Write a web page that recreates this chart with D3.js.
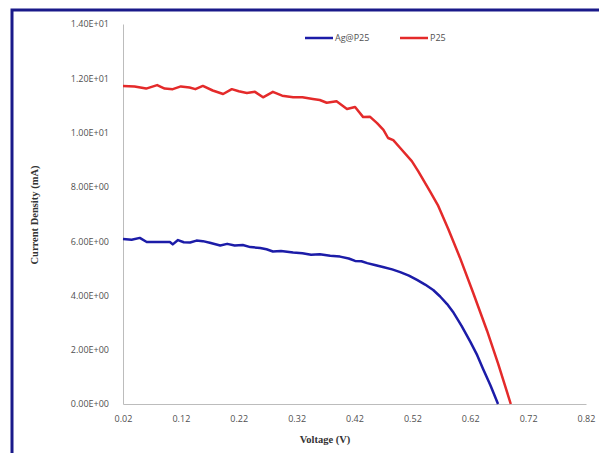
<!DOCTYPE html>
<html>
<head>
<meta charset="utf-8">
<script src="https://cdn.jsdelivr.net/npm/d3@7"></script>
<style>
  body { margin: 0; background: #fff; }
  svg { display: block; }
</style>
</head>
<body>
<div id="chart"></div>
<script>
// Ag@P25 - voltage (V) and current density (mA)
var agVoltage = [0.02, 0.035, 0.049, 0.061, 0.101, 0.106, 0.115, 0.125, 0.136, 0.147, 0.158, 0.170, 0.188, 0.200,
    0.213, 0.227, 0.240, 0.257, 0.268, 0.279, 0.293, 0.314, 0.330, 0.345, 0.360, 0.378, 0.395, 0.410, 0.421,
    0.432, 0.442, 0.455, 0.469, 0.485, 0.499, 0.514, 0.528, 0.542, 0.556, 0.568, 0.580, 0.590, 0.605, 0.620,
    0.632, 0.642, 0.655, 0.668];
var agCurrent = [6.08, 6.05, 6.12, 5.97, 5.97, 5.88, 6.04, 5.96, 5.95, 6.02, 6.00, 5.94, 5.84, 5.90,
    5.84, 5.86, 5.78, 5.75, 5.70, 5.62, 5.64, 5.58, 5.55, 5.50, 5.52, 5.46, 5.43, 5.36, 5.27,
    5.26, 5.19, 5.12, 5.05, 4.96, 4.86, 4.73, 4.57, 4.40, 4.20, 3.96, 3.68, 3.40, 2.88, 2.30,
    1.80, 1.30, 0.68, 0.0];

// P25
var p25Voltage = [0.02, 0.04, 0.06, 0.079, 0.092, 0.106, 0.120, 0.135, 0.145, 0.158, 0.175, 0.193, 0.208, 0.220,
    0.234, 0.248, 0.262, 0.279, 0.295, 0.314, 0.330, 0.348, 0.360, 0.372, 0.389, 0.407, 0.421, 0.435, 0.447,
    0.459, 0.470, 0.478, 0.487, 0.499, 0.519, 0.530, 0.550, 0.564, 0.582, 0.602, 0.625, 0.649,
    0.668, 0.690];
var p25Current = [11.72, 11.70, 11.62, 11.75, 11.62, 11.60, 11.70, 11.66, 11.60, 11.72, 11.55, 11.42, 11.60, 11.52,
    11.46, 11.50, 11.30, 11.50, 11.36, 11.30, 11.30, 11.24, 11.20, 11.10, 11.15, 10.87, 10.94, 10.57, 10.58,
    10.35, 10.10, 9.80, 9.72, 9.43, 8.95, 8.58, 7.85, 7.33, 6.45, 5.40, 4.10, 2.70,
    1.50, 0.0];

var xTicks = [0.02, 0.12, 0.22, 0.32, 0.42, 0.52, 0.62, 0.72, 0.82];
var yTicks = [0, 2, 4, 6, 8, 10, 12, 14];

var seriesNames = ["Ag@P25", "P25"];
var seriesColors = ["#1c1ca8", "#e42a2a"];

var width = 599, height = 453;
var svg = d3.select("#chart").append("svg")
    .attr("width", width)
    .attr("height", height);

// outer frame
svg.append("rect")
    .attr("x", 12).attr("y", 10)
    .attr("width", 600).attr("height", 460)
    .attr("fill", "#fff")
    .attr("stroke", "#1a1a8a")
    .attr("stroke-width", 3);

var x = d3.scaleLinear().domain([0.02, 0.82]).range([123, 586]);
var y = d3.scaleLinear().domain([0, 14]).range([404, 24]);

var fmt = function (d) {
    return d.toExponential(2).toUpperCase().replace(/E([+-])(\d)$/, "E$10$2");
};

// y axis
var yAxis = svg.append("g")
    .attr("transform", "translate(123,0)")
    .call(d3.axisLeft(y).tickValues(yTicks).tickSize(0).tickPadding(14).tickFormat(fmt));
yAxis.select(".domain").attr("stroke", "#bcbcbc");
yAxis.selectAll("text")
    .attr("fill", "#505050")
    .style("font-family", "'Open Sans', sans-serif")
    .style("font-size", "9px");

// x axis
var xAxis = svg.append("g")
    .attr("transform", "translate(0,404)")
    .call(d3.axisBottom(x).tickValues(xTicks).tickSize(0).tickPadding(12).tickFormat(d3.format(".2f")));
xAxis.select(".domain").attr("stroke", "#bcbcbc");
xAxis.selectAll("text")
    .attr("fill", "#505050")
    .style("font-family", "'Open Sans', sans-serif")
    .style("font-size", "9px");

// axis titles
svg.append("text")
    .attr("x", 325).attr("y", 443)
    .attr("text-anchor", "middle")
    .style("font-family", "'Liberation Serif', serif")
    .style("font-weight", "bold")
    .style("font-size", "10.5px")
    .attr("fill", "#333")
    .text("Voltage (V)");

svg.append("text")
    .attr("transform", "translate(38,215) rotate(-90)")
    .attr("text-anchor", "middle")
    .style("font-family", "'Liberation Serif', serif")
    .style("font-weight", "bold")
    .style("font-size", "10.5px")
    .attr("fill", "#333")
    .text("Current Density (mA)");

// lines
var line = d3.line()
    .x(function (d) { return x(d[0]); })
    .y(function (d) { return y(d[1]); });

var agData = d3.zip(agVoltage, agCurrent);
var p25Data = d3.zip(p25Voltage, p25Current);

[agData, p25Data].forEach(function (data, i) {
    svg.append("path")
        .datum(data)
        .attr("fill", "none")
        .attr("stroke", seriesColors[i])
        .attr("stroke-width", 2.5)
        .attr("stroke-linejoin", "round")
        .attr("d", line);
});

// legend
var legendX = [305, 400];
seriesNames.forEach(function (name, i) {
    svg.append("line")
        .attr("x1", legendX[i]).attr("x2", legendX[i] + 28)
        .attr("y1", 38).attr("y2", 38)
        .attr("stroke", seriesColors[i])
        .attr("stroke-width", 2.5);
    svg.append("text")
        .attr("x", legendX[i] + 30).attr("y", 41)
        .attr("fill", "#505050")
        .style("font-family", "'Open Sans', sans-serif")
        .style("font-size", "9px")
        .text(name);
});
</script>
</body>
</html>
